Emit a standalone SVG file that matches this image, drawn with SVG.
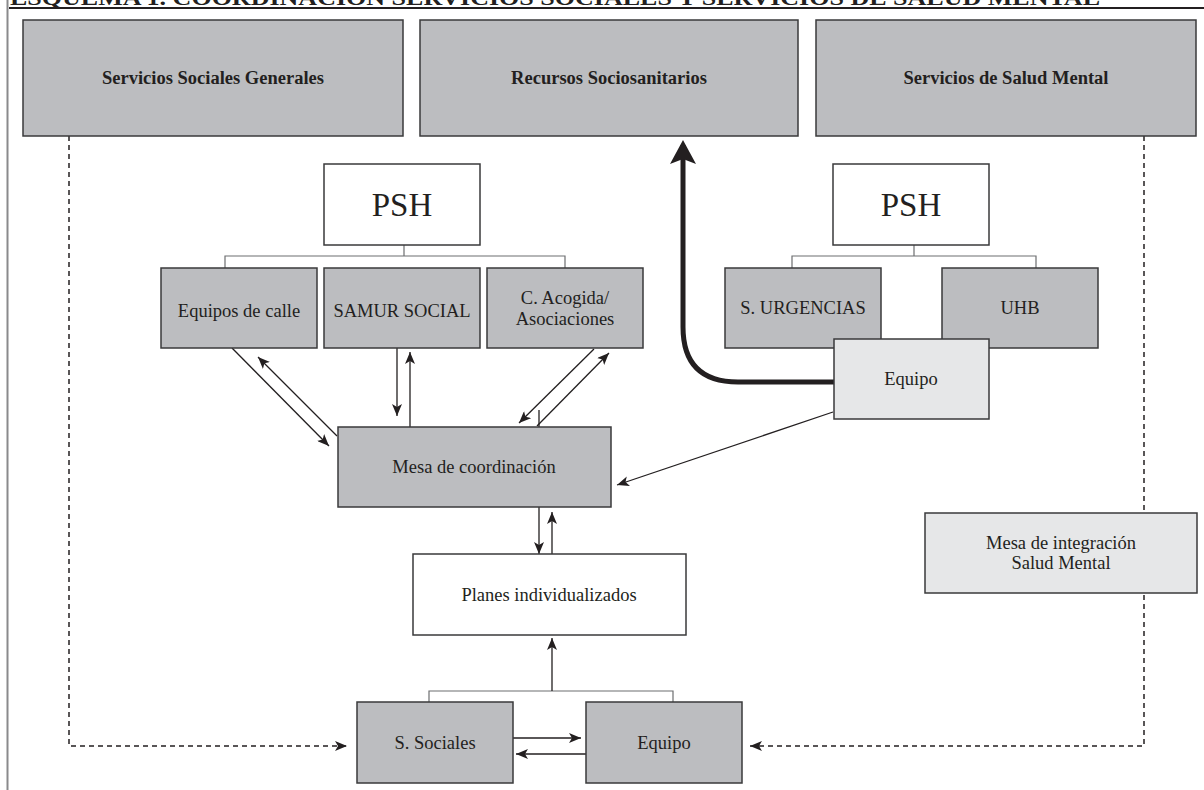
<svg xmlns="http://www.w3.org/2000/svg" width="1204" height="790" viewBox="0 0 1204 790">
<style>
  .g{fill:#bcbdc0;stroke:#3a3a3b;stroke-width:1.5}
  .w{fill:#ffffff;stroke:#3a3a3b;stroke-width:1.5}
  .l{fill:#e6e7e8;stroke:#3a3a3b;stroke-width:1.5}
  text{font-family:"Liberation Serif","Times New Roman",serif;fill:#231f20;text-anchor:middle}
  .t{font-size:18.5px}
  .b{font-size:18.5px;font-weight:bold}
  .p{font-size:33px}
  .c{fill:none;stroke:#231f20;stroke-width:1.3}
  .br{fill:none;stroke:#6d6e70;stroke-width:1.2}
  .d{fill:none;stroke:#231f20;stroke-width:1.5;stroke-dasharray:5 4}
</style>
<defs>
  <marker id="ah" viewBox="0 0 12 10" refX="12" refY="5" markerWidth="12" markerHeight="10" orient="auto" markerUnits="userSpaceOnUse">
    <path d="M0,0 L12,5 L0,10 L3,5 z" fill="#231f20"/>
  </marker>
  <marker id="big" viewBox="0 0 24 26" refX="19" refY="13" markerWidth="24" markerHeight="26" orient="auto" markerUnits="userSpaceOnUse">
    <path d="M0,0 L24,13 L0,26 L5,13 z" fill="#231f20"/>
  </marker>
</defs>
<rect width="1204" height="790" fill="#ffffff"/>
<g id="frame">
  <line x1="7.5" y1="0" x2="7.5" y2="790" stroke="#8a8a8c" stroke-width="2"/>
  <line x1="9" y1="8" x2="1204" y2="8" stroke="#231f20" stroke-width="1.8"/>
  <text x="555" y="5" font-size="22" font-weight="bold" textLength="1090" lengthAdjust="spacingAndGlyphs">ESQUEMA 1. COORDINACIÓN SERVICIOS SOCIALES Y SERVICIOS DE SALUD MENTAL</text>
</g>
<g id="connectors">
  <path class="d" d="M69,136 V746 H347" marker-end="url(#ah)"/>
  <path class="d" d="M1144,136 V746 H750" marker-end="url(#ah)"/>
  <path class="br" d="M225,268 V256 H565 V268 M404,245 V256"/>
  <path class="br" d="M792,268 V256 H1036 V268 M914,245 V256"/>
  <path class="br" d="M429,702 V691 H673 V702"/>
  <path d="M834,382 H738 Q683,382 683,327 V145" fill="none" stroke="#231f20" stroke-width="5" marker-end="url(#big)"/>
  <path class="c" d="M232,348 L329,446" marker-end="url(#ah)"/>
  <path class="c" d="M337,436 L258,357" marker-end="url(#ah)"/>
  <path class="c" d="M397,348 V416" marker-end="url(#ah)"/>
  <path class="c" d="M410,427 V352" marker-end="url(#ah)"/>
  <path class="c" d="M594,349 L519,423" marker-end="url(#ah)"/>
  <path class="c" d="M537,426 L609,353" marker-end="url(#ah)"/>
  <path class="c" d="M539,410 V427"/>
  <path class="c" d="M833,412 L617,485" marker-end="url(#ah)"/>
  <path class="c" d="M539,507 V554" marker-end="url(#ah)"/>
  <path class="c" d="M552,554 V512" marker-end="url(#ah)"/>
  <path class="c" d="M552,691 V638" marker-end="url(#ah)"/>
  <path class="c" d="M513,738 H581" marker-end="url(#ah)"/>
  <path class="c" d="M586,754 H516" marker-end="url(#ah)"/>
</g>
<g id="ssg"><rect class="g" x="23" y="20" width="380" height="116"/><text class="b" x="213" y="84">Servicios Sociales Generales</text></g>
<g id="rs"><rect class="g" x="420" y="20" width="378" height="116"/><text class="b" x="609" y="84">Recursos Sociosanitarios</text></g>
<g id="ssm"><rect class="g" x="816" y="20" width="380" height="116"/><text class="b" x="1006" y="84">Servicios de Salud Mental</text></g>
<g id="psh1"><rect class="w" x="324" y="164" width="156" height="81"/><text class="p" x="402" y="216">PSH</text></g>
<g id="psh2"><rect class="w" x="833" y="164" width="156" height="81"/><text class="p" x="911" y="216">PSH</text></g>
<g id="calle"><rect class="g" x="161" y="268" width="156" height="80"/><text class="t" x="239" y="317">Equipos de calle</text></g>
<g id="samur"><rect class="g" x="324" y="268" width="156" height="80"/><text class="t" x="402" y="317">SAMUR SOCIAL</text></g>
<g id="acogida"><rect class="g" x="487" y="268" width="156" height="80"/><text class="t" x="565" y="304">C. Acogida/</text><text class="t" x="565" y="325">Asociaciones</text></g>
<g id="urg"><rect class="g" x="725" y="268" width="156" height="80"/><text class="t" x="803" y="314">S. URGENCIAS</text></g>
<g id="uhb"><rect class="g" x="942" y="268" width="156" height="80"/><text class="t" x="1020" y="314">UHB</text></g>
<g id="equipo1"><rect class="l" x="834" y="339" width="155" height="80"/><text class="t" x="911" y="385">Equipo</text></g>
<g id="mesa"><rect class="g" x="338" y="427" width="273" height="80"/><text class="t" x="474" y="473">Mesa de coordinación</text></g>
<g id="integracion"><rect class="l" x="925" y="513" width="272" height="80"/><text class="t" x="1061" y="549">Mesa de integración</text><text class="t" x="1061" y="569">Salud Mental</text></g>
<g id="planes"><rect class="w" x="413" y="554" width="273" height="81"/><text class="t" x="549" y="601">Planes individualizados</text></g>
<g id="ssociales"><rect class="g" x="357" y="702" width="156" height="81"/><text class="t" x="435" y="749">S. Sociales</text></g>
<g id="equipo2"><rect class="g" x="586" y="702" width="156" height="81"/><text class="t" x="664" y="749">Equipo</text></g>
</svg>
